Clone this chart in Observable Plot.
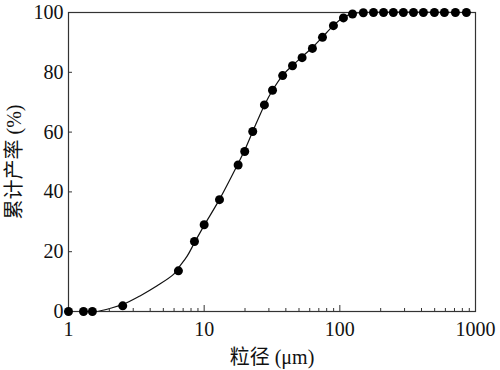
<!DOCTYPE html>
<html>
<head>
<meta charset="utf-8">
<script src="https://cdn.jsdelivr.net/npm/d3@7"></script>
<script src="https://cdn.jsdelivr.net/npm/@observablehq/plot@0.6"></script>
<style>
  html, body { margin: 0; padding: 0; background: #fff; }
  #chart { width: 500px; height: 370px; }
</style>
</head>
<body>
<div id="chart"></div>
<script>
// Measured particle sizes (µm) and cumulative yield (%)
const sizes = [1, 1.29, 1.5, 2.51, 6.46, 8.48, 10, 12.97, 17.8, 19.9, 22.8, 27.8, 31.9, 37.9, 44.8, 52.7, 62.8, 74.5, 89.7, 106.3, 124, 149, 177, 210, 248, 294, 349, 413, 498, 590, 711, 857];
const yields = [0, 0, 0, 1.9, 13.6, 23.4, 29, 37.4, 49.0, 53.5, 60.2, 69.1, 74.0, 78.9, 82.2, 84.9, 88.0, 91.7, 95.6, 98.2, 99.5, 99.9, 100, 100, 100, 100, 100, 100, 100, 100, 100, 100];

// Fitted curve
const fitX = [1.64, 2.04, 2.56, 3.39, 4.5, 5.97, 6.46, 7.49, 8.48, 10, 12.97, 17.8, 19.9, 22.8, 27.8, 31.9, 37.9, 44.8, 52.7, 62.8, 74.5, 89.7, 106, 126, 150, 1000];
const fitY = [0, 1.1, 2.5, 5.3, 8.6, 12.5, 14.6, 18.5, 23.0, 28.8, 37.5, 49.5, 54.0, 60.2, 69.0, 74.0, 79.0, 82.3, 85.2, 88.3, 91.8, 95.6, 98.3, 99.7, 100, 100];

// Axis ticks
const majorTicks = [1, 10, 100, 1000];
const minorTicks = [2,3,4,5,6,7,8,9,20,30,40,50,60,70,80,90,200,300,400,500,600,700,800,900];
const yTicks = [0, 20, 40, 60, 80, 100];

const xLabel = "粒径 (μm)";
const yLabel = "累计产率 (%)";

const points = sizes.map((s, i) => ({x: s, y: yields[i]}));
const fit = fitX.map((s, i) => ({x: s, y: fitY[i]}));

const serif = "Liberation Serif";
const cjk = "Liberation Serif, Noto Sans CJK SC";

const chart = Plot.plot({
  width: 500,
  height: 370,
  marginLeft: 68,
  marginRight: 25,
  marginTop: 12,
  marginBottom: 59,
  style: {fontFamily: "Liberation Serif", fontSize: "20px", color: "#111", background: "#fff"},
  x: {type: "log", domain: [1, 1000]},
  y: {domain: [0, 100]},
  marks: [
    Plot.line(fit, {x: "x", y: "y", stroke: "#111", strokeWidth: 1.2, curve: "catmull-rom"}),
    Plot.frame({stroke: "#333", strokeWidth: 1.2}),
    Plot.axisX({ticks: majorTicks, tickSize: -6, text: null, stroke: "#333", label: null}),
    Plot.axisX({ticks: minorTicks, tickSize: -3, text: null, stroke: "#333", label: null}),
    Plot.axisX({ticks: majorTicks, tickSize: 0, tickPadding: 10, tickFormat: d => String(d), fill: "#111",
      fontFamily: serif, fontSize: 20, label: null}),
    Plot.axisX({ticks: [], tickSize: 0, fontFamily: cjk, fontSize: 20, fill: "#111",
      label: xLabel, labelAnchor: "center", labelOffset: 52, labelArrow: "none"}),
    Plot.axisY({ticks: yTicks, tickSize: -4, text: null, stroke: "#333", label: null}),
    Plot.axisY({ticks: yTicks, tickSize: 0, tickPadding: 5, fill: "#111",
      fontFamily: serif, fontSize: 20, label: null}),
    Plot.axisY({ticks: [], tickSize: 0, fontFamily: cjk, fontSize: 20, fill: "#111",
      label: yLabel, labelAnchor: "center", labelOffset: 62, labelArrow: "none"}),
    Plot.dot(points, {x: "x", y: "y", r: 4.5, fill: "#000", stroke: "none"})
  ]
});
document.getElementById("chart").appendChild(chart);
</script>
</body>
</html>
